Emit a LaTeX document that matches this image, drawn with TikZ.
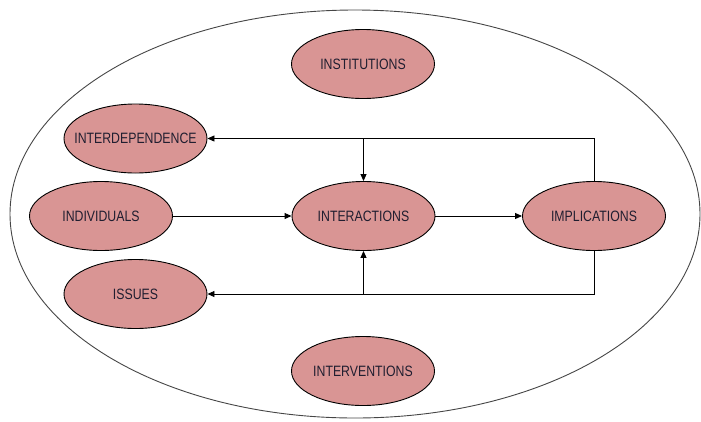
\documentclass[tikz,border=0pt]{standalone}
\usepackage{fontspec}
\setmainfont{Liberation Sans}
\usetikzlibrary{shapes.geometric,arrows.meta}

\definecolor{bubblefill}{RGB}{217,149,148}
\definecolor{bubbletext}{RGB}{32,30,48}
\definecolor{outerline}{RGB}{70,70,70}
\newcommand{\lbl}[1]{\makebox[0pt]{\scalebox{0.82}[1]{\fontsize{15}{18}\selectfont #1}}}

\tikzset{
  bubble/.style={ellipse, draw=black, line width=0.9pt, fill=bubblefill,
    text=bubbletext, minimum width=143pt, minimum height=69pt, inner sep=0pt},
  flow/.style={line width=0.9pt, -{Triangle[length=7pt,width=6pt]}},
  plain/.style={line width=0.9pt}
}

\begin{document}
\begin{tikzpicture}[x=1pt,y=-1pt]
\useasboundingbox (0,0) rectangle (701,421);

% Outer ellipse around everything
\draw[outerline, line width=0.9pt] (355,214) ellipse [x radius=345, y radius=204];

% The seven bubbles
\node[bubble] (institutions) at (363,64) {\lbl{INSTITUTIONS}};
\node[bubble] (interdep) at (135.5,138.5) {\lbl{INTERDEPENDENCE}};
\node[bubble] (individuals) at (101,216) {\lbl{INDIVIDUALS}};
\node[bubble] (interactions) at (363.5,216) {\lbl{INTERACTIONS}};
\node[bubble] (implications) at (594,216) {\lbl{IMPLICATIONS}};
\node[bubble] (issues) at (135.5,294) {\lbl{ISSUES}};
\node[bubble] (interventions) at (363,371) {\lbl{INTERVENTIONS}};

% Junctions on the feedback loops
\coordinate (topjoin) at (interactions.north |- interdep.east);
\coordinate (botjoin) at (interactions.south |- issues.east);

% Main chain
\draw[flow] (individuals) -- (interactions);
\draw[flow] (interactions) -- (implications);

% Feedback loop above
\draw[flow] (implications.north) |- (interdep.east);
\draw[flow] (topjoin) -- (interactions.north);

% Feedback loop below
\draw[flow] (implications.south) |- (issues.east);
\draw[flow] (botjoin) -- (interactions.south);

\end{tikzpicture}
\end{document}
